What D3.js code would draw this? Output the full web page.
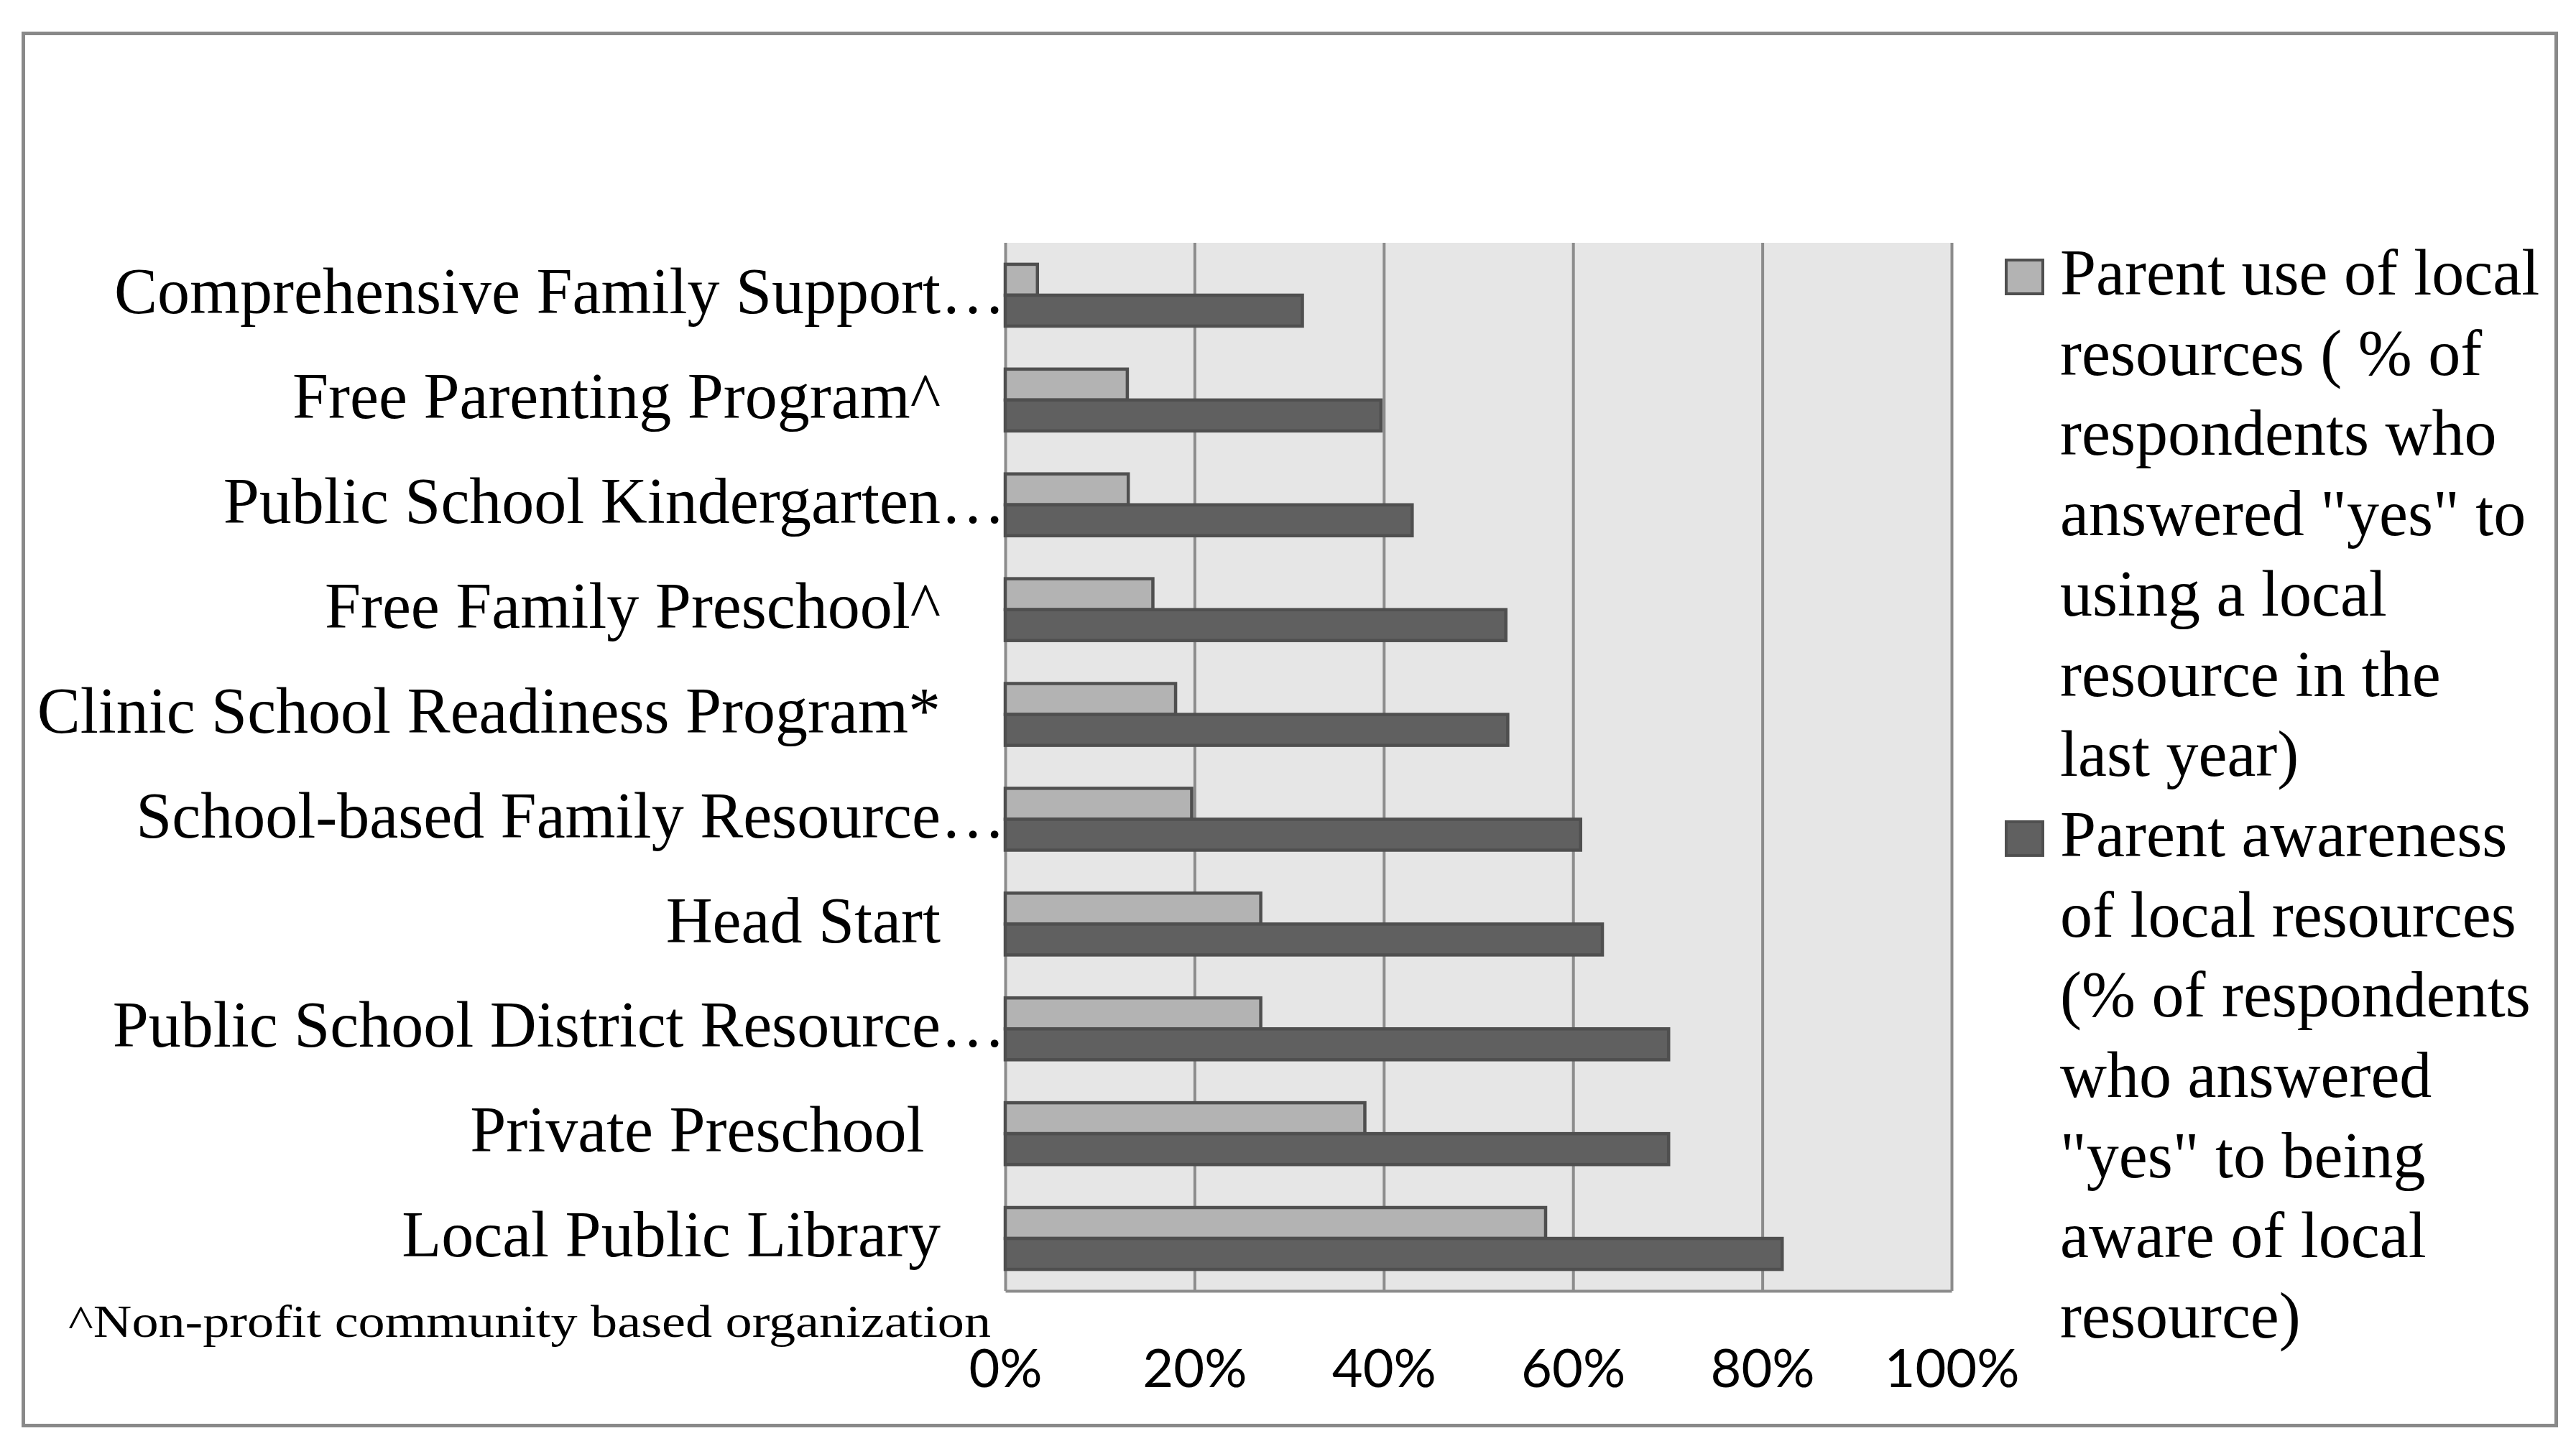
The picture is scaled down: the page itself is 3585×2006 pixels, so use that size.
<!DOCTYPE html>
<html>
<head>
<meta charset="utf-8">
<script src="https://cdn.jsdelivr.net/npm/d3@7"></script>
<style>
  html, body { margin: 0; padding: 0; background: #fff; }
  svg { display: block; }
</style>
</head>
<body>
<svg id="chart"></svg>
<script>
// data (top to bottom)
const categories = [
  'Comprehensive Family Support…',
  'Free Parenting Program^    ',
  'Public School Kindergarten…',
  'Free Family Preschool^    ',
  'Clinic School Readiness Program*    ',
  'School-based Family Resource…',
  'Head Start    ',
  'Public School District Resource…',
  'Private Preschool     ',
  'Local Public Library    '
];
const useValues = [3.4, 12.9, 13.0, 15.6, 18.0, 19.7, 27.0, 27.0, 38.0, 57.1];
const awareValues = [31.4, 39.7, 43.0, 52.9, 53.1, 60.8, 63.1, 70.1, 70.1, 82.1];
const xTicks = [0, 20, 40, 60, 80, 100];
const useLegend = ['Parent use of local', 'resources ( % of', 'respondents who',
  'answered "yes" to', 'using a local', 'resource in the', 'last year)'];
const awareLegend = ['Parent awareness', 'of local resources', '(% of respondents',
  'who answered', '"yes" to being', 'aware of local', 'resource)'];
const footnote = '^Non-profit community based organization';

const W = 3585, H = 2006;
const serif = "'Liberation Serif', 'Times New Roman', serif";
const sans = "Lato, 'Liberation Sans', Arial, sans-serif";
const gridColor = '#8c8c8c';
const colors = { use: '#b3b3b3', aware: '#606060' };
const barStroke = '#4f4f4f';

const svg = d3.select('#chart')
  .attr('width', W)
  .attr('height', H);

// outer frame
svg.append('rect')
  .attr('x', 32.5).attr('y', 46.5)
  .attr('width', 3525).attr('height', 1938)
  .attr('fill', '#fff')
  .attr('stroke', '#898989')
  .attr('stroke-width', 5);

const plot = { left: 1399, right: 2716, top: 338, bottom: 1797 };

const x = d3.scaleLinear()
  .domain([0, 100])
  .range([plot.left, plot.right]);
const y = d3.scaleBand()
  .domain(categories)
  .range([plot.top, plot.bottom])
  .paddingInner(0.41)
  .paddingOuter(0.205);
const ySub = d3.scaleBand()
  .domain(['use', 'aware'])
  .range([0, y.bandwidth()]);

// plot background
svg.append('rect')
  .attr('x', plot.left).attr('y', plot.top)
  .attr('width', plot.right - plot.left)
  .attr('height', plot.bottom - plot.top)
  .attr('fill', '#e6e6e6');

// x axis with gridlines
const xAxis = d3.axisBottom(x)
  .tickValues(xTicks)
  .tickFormat(d => d + '%')
  .tickSize(-(plot.bottom - plot.top))
  .tickSizeOuter(0);
const gx = svg.append('g')
  .attr('transform', `translate(0, ${plot.bottom})`)
  .call(xAxis);
gx.select('.domain')
  .attr('stroke', gridColor)
  .attr('stroke-width', 4);
gx.selectAll('.tick line')
  .attr('stroke', gridColor)
  .attr('stroke-width', 4);
gx.selectAll('.tick text')
  .attr('y', 134)
  .attr('dy', 0)
  .attr('fill', '#000')
  .style('font-family', sans)
  .style('font-size', '74px');

// bars
const rows = categories.map((c, i) => ({ cat: c, use: useValues[i], aware: awareValues[i] }));
const groups = svg.append('g')
  .selectAll('g')
  .data(rows)
  .join('g')
    .attr('transform', d => `translate(0, ${y(d.cat)})`);
groups.selectAll('rect')
  .data(d => ['use', 'aware'].map(k => ({ key: k, value: d[k] })))
  .join('rect')
    .attr('x', x(0))
    .attr('y', d => ySub(d.key))
    .attr('width', d => x(d.value) - x(0))
    .attr('height', ySub.bandwidth())
    .attr('fill', d => colors[d.key])
    .attr('stroke', barStroke)
    .attr('stroke-width', 4.5);

// category labels
const yAxis = d3.axisLeft(y).tickSize(0).tickPadding(0);
const gy = svg.append('g')
  .attr('transform', `translate(${plot.left}, 0)`)
  .call(yAxis);
gy.select('.domain').remove();
gy.selectAll('.tick text')
  .attr('dy', '0.28em')
  .attr('fill', '#000')
  .attr('xml:space', 'preserve')
  .style('white-space', 'pre')
  .style('font-family', serif)
  .style('font-size', '90px');

// footnote
svg.append('text')
  .attr('x', 95)
  .attr('y', 1861)
  .attr('textLength', 1284)
  .attr('lengthAdjust', 'spacingAndGlyphs')
  .style('font-family', serif)
  .style('font-size', '64px')
  .text(footnote);

// legend
const lineH = 111.7;
const legendItems = [
  { key: 'use', lines: useLegend, start: 0 },
  { key: 'aware', lines: awareLegend, start: useLegend.length }
];
const legend = svg.append('g');
legendItems.forEach(item => {
  const base = 410 + item.start * lineH;
  legend.append('rect')
    .attr('x', 2792).attr('y', base - 48)
    .attr('width', 51).attr('height', 47)
    .attr('fill', colors[item.key])
    .attr('stroke', barStroke)
    .attr('stroke-width', 4);
  legend.append('g')
    .selectAll('text')
    .data(item.lines)
    .join('text')
      .attr('x', 2867)
      .attr('y', (d, i) => base + i * lineH)
      .style('font-family', serif)
      .style('font-size', '90px')
      .text(d => d);
});
</script>
</body>
</html>
